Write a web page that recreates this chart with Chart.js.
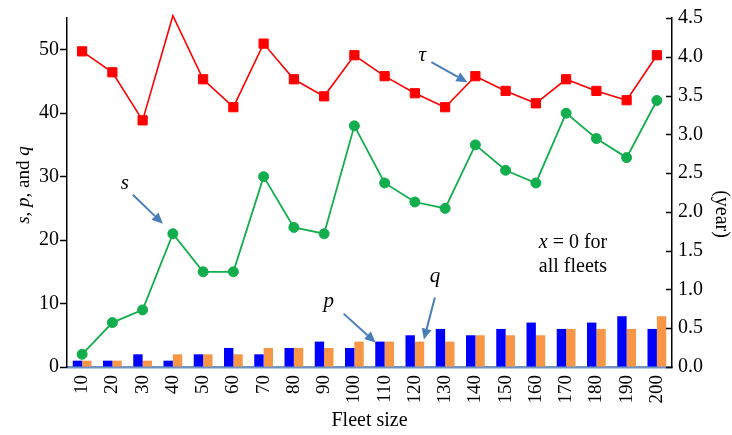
<!DOCTYPE html>
<html><head><meta charset="utf-8">
<script src="https://cdn.jsdelivr.net/npm/chart.js@4/dist/chart.umd.min.js"></script>
<style>html,body{margin:0;padding:0;background:#fff}#wrap{width:732px;height:435px}</style>
</head><body><div id="wrap"><canvas id="c" width="732" height="435"></canvas></div>
<script>
const fleetSizes = ['10','20','30','40','50','60','70','80','90','100','110','120','130','140','150','160','170','180','190','200'];
const sValues   = [2, 7, 9, 21, 15, 15, 30, 22, 21, 38, 29, 26, 25, 35, 31, 29, 40, 36, 33, 42];
const pValues   = [1, 1, 2, 1, 2, 3, 2, 3, 4, 3, 4, 5, 6, 5, 6, 7, 6, 7, 8, 6];
const qValues   = [1, 1, 1, 2, 2, 2, 3, 3, 3, 4, 4, 4, 4, 5, 5, 5, 6, 6, 6, 8];
const tauValues = [4.07, 3.80, 3.18, 4.53, 3.71, 3.35, 4.17, 3.71, 3.49, 4.02, 3.75, 3.53, 3.35, 3.75, 3.56, 3.40, 3.71, 3.56, 3.44, 4.02];
const tauMarkerShown = [1, 1, 1, 0, 1, 1, 1, 1, 1, 1, 1, 1, 1, 1, 1, 1, 1, 1, 1, 1];
const leftTicks  = [0, 10, 20, 30, 40, 50];
const rightTicks = [0, 0.5, 1.0, 1.5, 2.0, 2.5, 3.0, 3.5, 4.0, 4.5];

const SERIF = '"Liberation Serif", "DejaVu Serif", serif';
const ARROW = '#4a7ebb';

function drawArrow(ctx, x1, y1, x2, y2) {
  const ang = Math.atan2(y2 - y1, x2 - x1);
  const hl = 11, hw = 5;
  const bx = x2 - hl * Math.cos(ang), by = y2 - hl * Math.sin(ang);
  ctx.save();
  ctx.strokeStyle = ARROW; ctx.fillStyle = ARROW; ctx.lineWidth = 2;
  ctx.beginPath(); ctx.moveTo(x1, y1); ctx.lineTo(bx, by); ctx.stroke();
  ctx.beginPath();
  ctx.moveTo(x2, y2);
  ctx.lineTo(bx + hw * Math.sin(ang), by - hw * Math.cos(ang));
  ctx.lineTo(bx - hw * Math.sin(ang), by + hw * Math.cos(ang));
  ctx.closePath(); ctx.fill();
  ctx.restore();
}
function drawItalic(ctx, t, x, y, size) {
  ctx.save();
  ctx.font = 'italic ' + size + 'px ' + SERIF;
  ctx.fillStyle = '#000'; ctx.textAlign = 'center'; ctx.textBaseline = 'middle';
  ctx.fillText(t, x, y);
  ctx.restore();
}
function drawMixed(ctx, parts, x, y, size, align) {
  let total = 0;
  parts.forEach(p => { ctx.font = (p[1] ? 'italic ' : '') + size + 'px ' + SERIF; total += ctx.measureText(p[0]).width; });
  let cx = align === 'center' ? x - total / 2 : x;
  ctx.textAlign = 'left'; ctx.textBaseline = 'middle'; ctx.fillStyle = '#000';
  parts.forEach(p => { ctx.font = (p[1] ? 'italic ' : '') + size + 'px ' + SERIF; ctx.fillText(p[0], cx, y); cx += ctx.measureText(p[0]).width; });
}

const annotPlugin = {
  id: 'annot',
  afterDraw(chart) {
    const ctx = chart.ctx, xs = chart.scales.x, ys = chart.scales.y, yr = chart.scales.y1, ca = chart.chartArea;
    // inward ticks on right axis
    ctx.save(); ctx.strokeStyle = '#000'; ctx.lineWidth = 1.5;
    rightTicks.forEach(v => { const py = Math.round(yr.getPixelForValue(v)) + 0.5; ctx.beginPath(); ctx.moveTo(ca.right - 6, py); ctx.lineTo(ca.right, py); ctx.stroke(); });
    ctx.restore();
    // s annotation
    let px = xs.getPixelForValue(3), py = ys.getPixelForValue(sValues[3]);
    drawArrow(ctx, px - 40, py - 39, px - 10, py - 10);
    drawItalic(ctx, 's', px - 48, py - 50, 21);
    // tau annotation
    px = xs.getPixelForValue(13); py = yr.getPixelForValue(tauValues[13]);
    drawArrow(ctx, px - 44, py - 14, px - 8, py + 6);
    drawItalic(ctx, 'τ', px - 53, py - 21, 21);
    // p annotation
    px = xs.getPixelForValue(10); py = ys.getPixelForValue(pValues[10]);
    drawArrow(ctx, px - 41, py - 28, px - 9, py + 1);
    drawItalic(ctx, 'p', px - 56, py - 40, 21);
    // q annotation
    px = xs.getPixelForValue(11); py = ys.getPixelForValue(qValues[11]);
    drawArrow(ctx, px + 20, py - 44, px + 9, py - 2);
    drawItalic(ctx, 'q', px + 20, py - 65, 21);
    // x = 0 note
    ctx.save();
    drawMixed(ctx, [['x', true], [' = 0 for', false]], 573, 243, 20, 'center');
    drawMixed(ctx, [['all fleets', false]], 573, 267, 20, 'center');
    // left axis title
    ctx.translate(24, 185); ctx.rotate(-Math.PI / 2);
    drawMixed(ctx, [['s', true], [', ', false], ['p', true], [', and ', false], ['q', true]], 0, 0, 19, 'center');
    ctx.restore();
    // right axis title
    ctx.save();
    ctx.translate(721, 214); ctx.rotate(Math.PI / 2);
    drawMixed(ctx, [['(year)', false]], 0, 0, 20, 'center');
    ctx.restore();
  }
};

new Chart(document.getElementById('c'), {
  data: {
    labels: fleetSizes,
    datasets: [
      { type: 'line', label: 'tau', data: tauValues, yAxisID: 'y1', order: 1, clip: 4,
        borderColor: '#ff0000', backgroundColor: '#ff0000', borderWidth: 1.6,
        pointStyle: 'rect', pointRadius: tauMarkerShown.map(m => m * 6.5), pointBorderWidth: tauMarkerShown, tension: 0 },
      { type: 'line', label: 's', data: sValues, yAxisID: 'y', order: 1,
        borderColor: '#12ad4c', backgroundColor: '#12ad4c', borderWidth: 1.8,
        pointStyle: 'circle', pointRadius: 5, pointBorderWidth: 1, tension: 0 },
      { type: 'bar', label: 'p', data: pValues, yAxisID: 'y', order: 2,
        backgroundColor: '#0000ff', borderWidth: 0, categoryPercentage: 0.62, barPercentage: 1.0 },
      { type: 'bar', label: 'q', data: qValues, yAxisID: 'y', order: 2,
        backgroundColor: '#f79646', borderWidth: 0, categoryPercentage: 0.62, barPercentage: 1.0 }
    ]
  },
  options: {
    responsive: false, animation: false, devicePixelRatio: 1,
    layout: { padding: { top: 14, left: 0, right: 0, bottom: 0 } },
    plugins: { legend: { display: false }, tooltip: { enabled: false } },
    scales: {
      x: {
        type: 'category', offset: true,
        grid: { display: false, drawTicks: false },
        border: { display: true, color: '#7093c4', width: 2.5 },
        ticks: { minRotation: 90, maxRotation: 90, autoSkip: false, padding: 8, color: '#000', font: { family: SERIF, size: 19 } },
        title: { display: true, text: 'Fleet size', color: '#000', font: { family: SERIF, size: 20 }, padding: { top: 0, bottom: 2 } },
        afterFit(s) { s.height = 68; }
      },
      y: {
        position: 'left', min: 0, max: 55,
        afterBuildTicks(s) { s.ticks = leftTicks.map(v => ({ value: v })); },
        grid: { drawOnChartArea: false, tickLength: 7, tickColor: '#000', tickWidth: 1.5 },
        border: { display: true, color: '#000', width: 1.5 },
        ticks: { padding: 1, color: '#000', font: { family: SERIF, size: 20 } },
        afterFit(s) { s.width = 67; }
      },
      y1: {
        position: 'right', min: 0, max: 4.5,
        afterBuildTicks(s) { s.ticks = rightTicks.map(v => ({ value: v })); },
        grid: { drawOnChartArea: false, drawTicks: false },
        border: { display: true, color: '#000', width: 1.5 },
        ticks: { padding: 6, color: '#000', font: { family: SERIF, size: 20 }, callback: v => Number(v).toFixed(1) },
        afterFit(s) { s.width = 60; }
      }
    }
  },
  plugins: [annotPlugin]
});
</script></body></html>
